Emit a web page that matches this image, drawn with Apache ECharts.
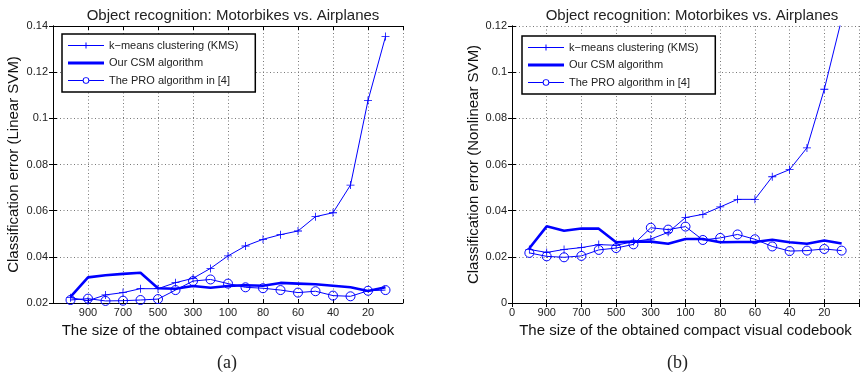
<!DOCTYPE html>
<html>
<head>
<meta charset="utf-8">
<script src="https://cdn.jsdelivr.net/npm/echarts@6/dist/echarts.min.js"></script>
<style>html,body{margin:0;padding:0;background:#fff}#c{width:862px;height:379px}</style>
</head>
<body>
<div id="c"></div>
<script>
// codebook sizes (x categories, plotted at positions 1..19)
const sizes = [1000, 900, 800, 700, 600, 500, 400, 300, 200, 100, 90, 80, 70, 60, 50, 40, 30, 20, 10];
const tickLabels = ['900', '700', '500', '300', '100', '80', '60', '40', '20'];
const yTicksLinear = [0.02, 0.04, 0.06, 0.08, 0.1, 0.12, 0.14];
const yTicksNonlinear = [0, 0.02, 0.04, 0.06, 0.08, 0.1, 0.12];

// (a) Linear SVM
const kmsLinear = [0.0223, 0.0210, 0.0235, 0.0245, 0.0262, 0.0262, 0.0288, 0.0307, 0.0350, 0.0404, 0.0447, 0.0476, 0.0496, 0.0512, 0.0574, 0.0591, 0.0711, 0.1077, 0.1354];
const csmLinear = [0.0227, 0.0311, 0.0320, 0.0326, 0.0331, 0.0264, 0.0262, 0.0274, 0.0266, 0.0274, 0.0277, 0.0275, 0.0287, 0.0284, 0.0281, 0.0275, 0.0268, 0.0252, 0.0268];
const proLinear = [0.0213, 0.0219, 0.0209, 0.0210, 0.0213, 0.0217, 0.0256, 0.0295, 0.0302, 0.0284, 0.0268, 0.0264, 0.0256, 0.0245, 0.0251, 0.0232, 0.0229, 0.0253, 0.0256];

// (b) Nonlinear SVM
const kmsNonlinear = [0.0232, 0.0219, 0.0232, 0.0240, 0.0253, 0.0250, 0.0266, 0.0277, 0.0306, 0.0370, 0.0384, 0.0416, 0.0449, 0.0449, 0.0547, 0.0578, 0.0672, 0.0926, 0.1230];
const csmNonlinear = [0.0237, 0.0332, 0.0313, 0.0323, 0.0322, 0.0263, 0.0266, 0.0266, 0.0257, 0.0277, 0.0277, 0.0263, 0.0264, 0.0264, 0.0274, 0.0263, 0.0257, 0.0271, 0.0258];
const proNonlinear = [0.0217, 0.0202, 0.0198, 0.0204, 0.0230, 0.0238, 0.0254, 0.0326, 0.0318, 0.0331, 0.0273, 0.0282, 0.0297, 0.0276, 0.0245, 0.0225, 0.0227, 0.0234, 0.0227];

const names = ['k\u2212means clustering (KMS)', 'Our CSM algorithm', 'The PRO algorithm in [4]'];
const title = 'Object recognition: Motorbikes vs. Airplanes';
const blue = '#0000ff';
const FONT = 'Liberation Sans, Arial, Helvetica, sans-serif';
const PLUS = 'path://M4.5,0 H5.5 V4.5 H10 V5.5 H5.5 V10 H4.5 V5.5 H0 V4.5 H4.5 Z';
// legend icons (36x10 box)
const ICON_KMS = 'path://M0,0 M0,4.5 H17.5 V2 H18.5 V4.5 H36 V5.5 H18.5 V8 H17.5 V5.5 H0 Z M36,10';
const ICON_CSM = 'path://M0,0 M0,3.6 H36 V6.4 H0 Z M36,10';
const ICON_PRO = 'path://M0,0 M0,4.5 H14.7 V5.5 H0 Z M21.3,4.5 H36 V5.5 H21.3 Z ' +
  'M14.7,5 A3.3,3.3 0 1 1 21.3,5 A3.3,3.3 0 1 1 14.7,5 Z ' +
  'M15.6,5 A2.4,2.4 0 1 0 20.4,5 A2.4,2.4 0 1 0 15.6,5 Z M36,10';

const pts = arr => arr.map((v, i) => [i + 1, v]);

function xLabel(showZero) {
  return v => {
    if (v === 0) return showZero ? '0' : '';
    if (v >= 2 && v <= 18 && v % 2 === 0) return tickLabels[v / 2 - 1];
    return '';
  };
}

const grids = [
  { left: 53, top: 26, width: 350, height: 277 },
  { left: 512, top: 26, width: 349, height: 277 }
];

function xAxes(gi, showZero) {
  return [
    {
      type: 'value', gridIndex: gi, position: 'bottom', min: 0, max: 20, interval: 2,
      axisLine: { show: true, lineStyle: { color: '#000', width: 1 } },
      axisTick: { show: true, inside: true, length: 4, lineStyle: { color: '#000' } },
      axisLabel: { formatter: xLabel(showZero), fontFamily: FONT, fontSize: 11, color: '#222', margin: 4, showMinLabel: true, showMaxLabel: true },
      splitLine: { show: true, lineStyle: { color: '#777', type: [1, 2.5], width: 1 } },
      name: 'The size of the obtained compact visual codebook', nameLocation: 'middle', nameGap: 17,
      nameTextStyle: { fontFamily: FONT, fontSize: 15, color: '#111' }
    },
    {
      type: 'value', gridIndex: gi, position: 'top', min: 0, max: 20, interval: 2,
      axisLine: { show: true, lineStyle: { color: '#000', width: 1 } },
      axisTick: { show: true, inside: true, length: 4, lineStyle: { color: '#000' } },
      axisLabel: { show: false }, splitLine: { show: false }
    }
  ];
}

function yAxes(gi, ticks, nameText, gap) {
  const mn = ticks[0], mx = ticks[ticks.length - 1];
  return [
    {
      type: 'value', gridIndex: gi, position: 'left', min: mn, max: mx, interval: 0.02,
      axisLine: { show: true, lineStyle: { color: '#000', width: 1 } },
      axisTick: { show: true, inside: true, length: 4, lineStyle: { color: '#000' } },
      axisLabel: { formatter: v => String(+v.toFixed(2)), fontFamily: FONT, fontSize: 11, color: '#222', margin: 5 },
      splitLine: { show: true, lineStyle: { color: '#777', type: [1, 2.5], width: 1 } },
      name: nameText, nameLocation: 'middle', nameGap: gap,
      nameTextStyle: { fontFamily: FONT, fontSize: 15, color: '#111' }
    },
    {
      type: 'value', gridIndex: gi, position: 'right', min: mn, max: mx, interval: 0.02,
      axisLine: { show: true, lineStyle: { color: '#000', width: 1 } },
      axisTick: { show: true, inside: true, length: 4, lineStyle: { color: '#000' } },
      axisLabel: { show: false }, splitLine: { show: false }
    }
  ];
}

function seriesFor(gi, kms, csm, pro) {
  const xi = gi * 2, yi = gi * 2;
  return [
    {
      name: names[0], type: 'line', xAxisIndex: xi, yAxisIndex: yi, data: pts(kms),
      symbol: PLUS, symbolSize: 8, showAllSymbol: true,
      lineStyle: { color: blue, width: 1 }, itemStyle: { color: blue },
      animation: false, z: 3
    },
    {
      name: names[1], type: 'line', xAxisIndex: xi, yAxisIndex: yi, data: pts(csm),
      symbol: 'none', lineStyle: { color: blue, width: 2.6 }, itemStyle: { color: blue },
      animation: false, z: 3
    },
    {
      name: names[2], type: 'line', xAxisIndex: xi, yAxisIndex: yi, data: pts(pro),
      symbol: 'circle', symbolSize: 9, showAllSymbol: true,
      lineStyle: { color: blue, width: 1 },
      itemStyle: { color: 'rgba(255,255,255,0)', borderColor: blue, borderWidth: 1 },
      animation: false, z: 3
    }
  ];
}

function legendAt(left, top) {
  const st = { color: blue, borderWidth: 0 };
  return {
    orient: 'vertical', left: left, top: top,
    data: [
      { name: names[0], icon: ICON_KMS, itemStyle: st },
      { name: names[1], icon: ICON_CSM, itemStyle: st },
      { name: names[2], icon: ICON_PRO, itemStyle: st }
    ],
    itemWidth: 36, itemHeight: 10, itemGap: 6.5,
    padding: [6, 17, 6, 6],
    backgroundColor: '#fff', borderColor: '#000', borderWidth: 1.5,
    textStyle: { fontFamily: FONT, fontSize: 11, color: '#222' },
    selectedMode: false
  };
}

const chart = echarts.init(document.getElementById('c'), null, { renderer: 'canvas' });
chart.setOption({
  animation: false,
  backgroundColor: '#fff',
  title: [
    { text: title, left: 228, top: 3, textAlign: 'center', textStyle: { fontFamily: FONT, fontSize: 15, fontWeight: 'normal', color: '#222' } },
    { text: title, left: 687, top: 3, textAlign: 'center', textStyle: { fontFamily: FONT, fontSize: 15, fontWeight: 'normal', color: '#222' } }
  ],
  legend: [legendAt(62, 34), legendAt(522, 36)],
  grid: grids.map(g => Object.assign({ containLabel: false }, g)),
  xAxis: [].concat(xAxes(0, false), xAxes(1, true)),
  yAxis: [].concat(yAxes(0, yTicksLinear, 'Classification error (Linear SVM)', 32), yAxes(1, yTicksNonlinear, 'Classification error (Nonlinear SVM)', 31)),
  series: [].concat(seriesFor(0, kmsLinear, csmLinear, proLinear), seriesFor(1, kmsNonlinear, csmNonlinear, proNonlinear)),
  graphic: [
    { type: 'text', left: 217, top: 354, style: { text: '(a)', fontFamily: 'Liberation Serif, DejaVu Serif, serif', fontSize: 18, fill: '#222' } },
    { type: 'text', left: 667, top: 354, style: { text: '(b)', fontFamily: 'Liberation Serif, DejaVu Serif, serif', fontSize: 18, fill: '#222' } }
  ]
});
</script>
</body>
</html>
